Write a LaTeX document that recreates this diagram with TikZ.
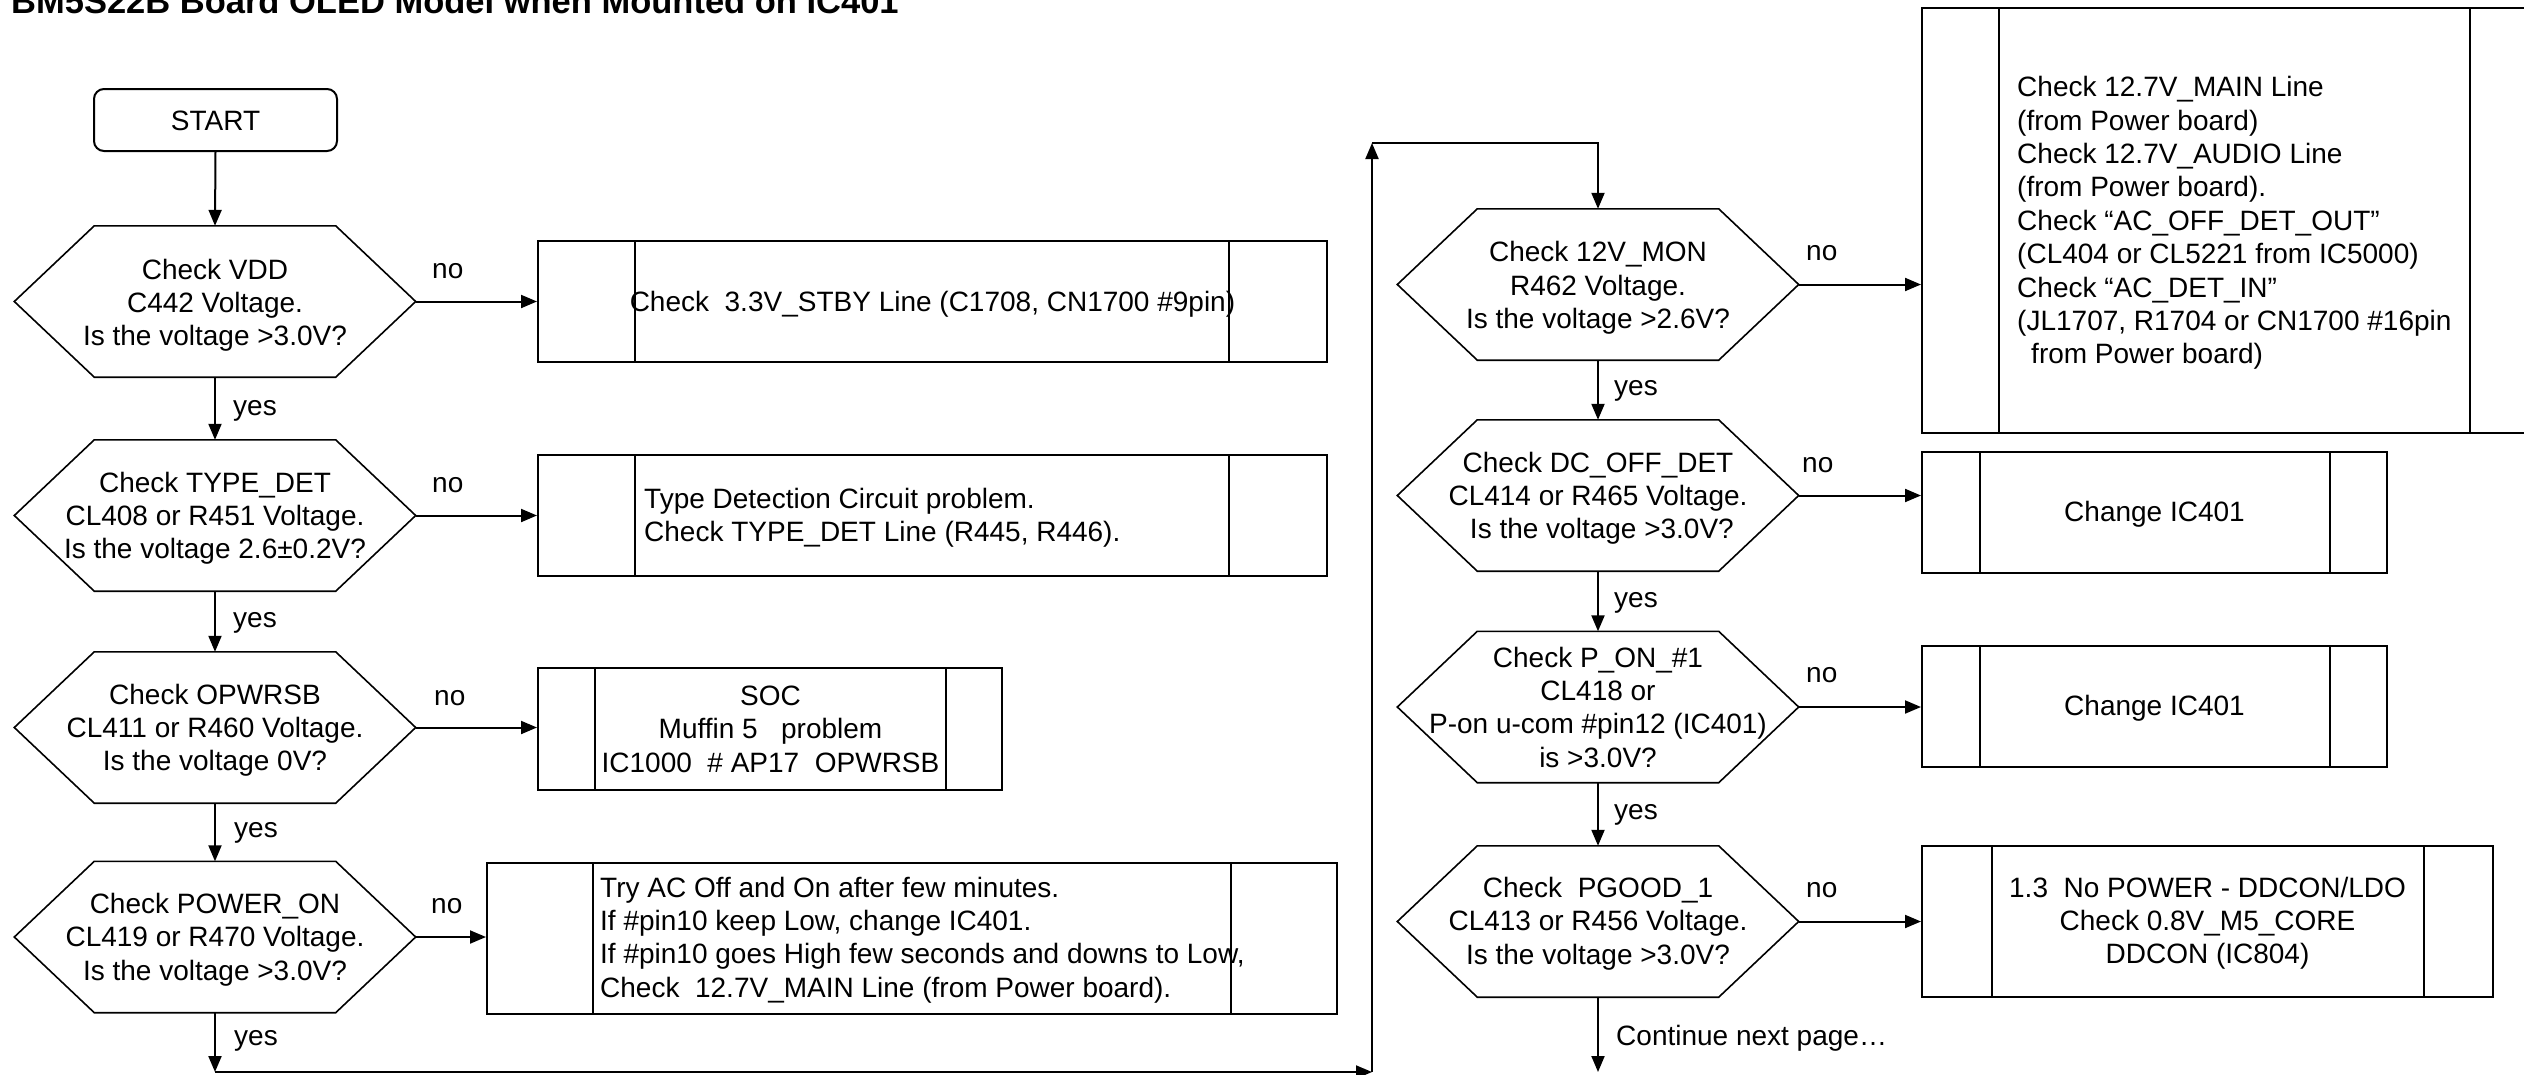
\documentclass[tikz,border=0pt]{standalone}
\usepackage{fontspec}
\setmainfont{Liberation Sans}
\usetikzlibrary{arrows.meta}
\begin{document}
\begin{tikzpicture}[x=1pt,y=-1pt,
  every node/.style={font=\fontsize{28}{33.4}\selectfont},
  hexq/.style={minimum width=401pt, minimum height=151pt, inner sep=0pt},
  procbox/.style={draw, line width=2pt, inner sep=0pt},
  startbox/.style={draw, line width=2pt, rounded corners=10pt, minimum width=243pt, minimum height=62pt, inner sep=0pt},
  flow/.style={line width=2pt, -{Triangle[length=16pt,width=13pt]}},
  lbl/.style={anchor=base west, inner sep=0pt},
  ctext/.style={anchor=base, align=center, inner sep=0pt},
  ltext/.style={anchor=base west, align=left, inner sep=0pt},
]
\useasboundingbox (0,0) rectangle (2524,1074);
\clip (0,0) rectangle (2524,1074);

% heading
\node[anchor=base west, inner sep=0pt, font=\bfseries\fontsize{34.5}{40}\selectfont] (title) at (11,13)
  {BM5S22B Board OLED Model when Mounted on IC401};

% start terminal
\node[startbox] (start) at (215.5,120) {};
\node[ctext] (startt) at (215.5,130) {START};

% decision outlines
\node[hexq] (h1) at (215,301.5) {};
\node[hexq] (h2) at (215,515.5) {};
\node[hexq] (h3) at (215,727.5) {};
\node[hexq] (h4) at (215,937) {};
\node[hexq] (h5) at (1598,284.5) {};
\node[hexq] (h6) at (1598,495.5) {};
\node[hexq] (h7) at (1598,707) {};
\node[hexq] (h8) at (1598,921.5) {};
\foreach \n in {h1,h2,h3,h4,h5,h6,h7,h8}
  \draw[line width=1.6pt, line join=miter]
    (\n.west) -- ([xshift=80pt]\n.north west) -- ([xshift=-80pt]\n.north east)
    -- (\n.east) -- ([xshift=-80pt]\n.south east) -- ([xshift=80pt]\n.south west) -- cycle;

% decision texts (placed at the last baseline)
\node[ctext] (h1t) at (215,345.8) {Check VDD\\C442 Voltage.\\Is the voltage >3.0V?};
\node[ctext] (h2t) at (215,558.8) {Check TYPE\_DET\\CL408 or R451 Voltage.\\Is the voltage 2.6±0.2V?};
\node[ctext] (h3t) at (215,770.8) {Check OPWRSB\\CL411 or R460 Voltage.\\Is the voltage 0V?};
\node[ctext] (h4t) at (215,980.3) {Check POWER\_ON\\CL419 or R470 Voltage.\\Is the voltage >3.0V?};
\node[ctext] (h5t) at (1598,328.5) {Check 12V\_MON\\R462 Voltage.\\Is the voltage >2.6V?};
\node[ctext] (h6t) at (1598,538.8) {Check DC\_OFF\_DET\\CL414 or R465 Voltage.\\\ Is the voltage >3.0V?};
\node[ctext] (h7t) at (1598,767.2) {Check P\_ON\_\#1\\CL418 or\\P-on u-com \#pin12 (IC401)\\is >3.0V?};
\node[ctext] (h8t) at (1598,964.3) {Check\ \ PGOOD\_1\\CL413 or R456 Voltage.\\Is the voltage >3.0V?};

% action boxes
\node[procbox, minimum width=789pt, minimum height=121pt] (b1) at (932.5,301.5) {};
\node[procbox, minimum width=789pt, minimum height=121pt] (b2) at (932.5,515.5) {};
\node[procbox, minimum width=464pt, minimum height=122pt] (b3) at (770,729) {};
\node[procbox, minimum width=850pt, minimum height=151pt] (b4) at (912,938.5) {};
\node[procbox, minimum width=625pt, minimum height=425pt] (b5) at (2234.5,220.5) {};
\node[procbox, minimum width=465pt, minimum height=121pt] (b6) at (2154.5,512.5) {};
\node[procbox, minimum width=465pt, minimum height=121pt] (b7) at (2154.5,706.5) {};
\node[procbox, minimum width=571pt, minimum height=151pt] (b8) at (2207.5,921.5) {};

\foreach \n/\a/\b in {b1/98/99, b2/98/99, b3/58/57, b4/107/107, b5/78/78, b6/59/58, b7/59/58, b8/71/70}{
  \draw[line width=1.6pt] ([xshift=\a pt]\n.north west) -- ([xshift=\a pt]\n.south west);
  \draw[line width=1.6pt] ([xshift=-\b pt]\n.north east) -- ([xshift=-\b pt]\n.south east);
}

% action texts
\node[ctext] (b1t) at (932.5,311) {Check\ \ 3.3V\_STBY Line (C1708, CN1700 \#9pin)};
\node[ltext] (b2t) at (644,541.4) {Type Detection Circuit problem.\\Check TYPE\_DET Line (R445, R446).};
\node[ctext] (b3t) at (770.5,772.3) {SOC\\Muffin 5\ \ \ problem\\IC1000\ \ \# AP17\ \ OPWRSB};
\node[ltext] (b4t) at (600,997.2) {Try AC Off and On after few minutes.\\If \#pin10 keep Low, change IC401.\\If \#pin10 goes High few seconds and downs to Low,\\Check\ \ 12.7V\_MAIN Line (from Power board).};
\node[ltext] (b5t) at (2017,363.9) {Check 12.7V\_MAIN Line\\(from Power board)\\Check 12.7V\_AUDIO Line\\(from Power board).\\Check “AC\_OFF\_DET\_OUT”\\(CL404 or CL5221 from IC5000)\\Check “AC\_DET\_IN”\\(JL1707, R1704 or CN1700 \#16pin\\\hspace*{14pt}from Power board)};
\node[ctext] (b6t) at (2154.5,521) {Change IC401};
\node[ctext] (b7t) at (2154.5,715.5) {Change IC401};
\node[ctext] (b8t) at (2207.5,963.8) {1.3\ \ No POWER - DDCON/LDO\\Check 0.8V\_M5\_CORE\\DDCON (IC804)};

% yes path
\draw[flow] (start.south) -- (h1.north);
\draw[flow] (h1.south) -- (h2.north);
\draw[flow] (h2.south) -- (h3.north);
\draw[flow] (h3.south) -- (h4.north);
\coordinate (c1) at (215,1072);
\coordinate (c2) at (1372,1072);
\coordinate (c3) at (1372,143);
\coordinate (c4) at (1598,143);
\coordinate (c5) at (1598,1072);
\draw[flow] (h4.south) -- (c1);
\draw[flow] (c1) -- (c2);
\draw[flow] (c2) -- (c3);
\draw[flow] (c3) -- (c4) -- (h5.north);
\draw[flow] (h5.south) -- (h6.north);
\draw[flow] (h6.south) -- (h7.north);
\draw[flow] (h7.south) -- (h8.north);
\draw[flow] (h8.south) -- (c5);

% no branches
\draw[flow] (h1.east) -- (h1.east -| b1.west);
\draw[flow] (h2.east) -- (h2.east -| b2.west);
\draw[flow] (h3.east) -- (h3.east -| b3.west);
\draw[flow] (h4.east) -- (h4.east -| b4.west);
\draw[flow] (h5.east) -- (h5.east -| b5.west);
\draw[flow] (h6.east) -- (h6.east -| b6.west);
\draw[flow] (h7.east) -- (h7.east -| b7.west);
\draw[flow] (h8.east) -- (h8.east -| b8.west);

% branch labels
\node[lbl] (n1) at (432,278) {no};
\node[lbl] (n2) at (432,492) {no};
\node[lbl] (n3) at (434,705) {no};
\node[lbl] (n4) at (431,913) {no};
\node[lbl] (n5) at (1806,260) {no};
\node[lbl] (n6) at (1802,472) {no};
\node[lbl] (n7) at (1806,682) {no};
\node[lbl] (n8) at (1806,897) {no};
\node[lbl] (y1) at (233,415) {yes};
\node[lbl] (y2) at (233,627) {yes};
\node[lbl] (y3) at (234,837) {yes};
\node[lbl] (y4) at (234,1045) {yes};
\node[lbl] (y5) at (1614,395) {yes};
\node[lbl] (y6) at (1614,607) {yes};
\node[lbl] (y7) at (1614,819) {yes};
\node[lbl] (cont) at (1616,1045) {Continue next page…};
\end{tikzpicture}
\end{document}
